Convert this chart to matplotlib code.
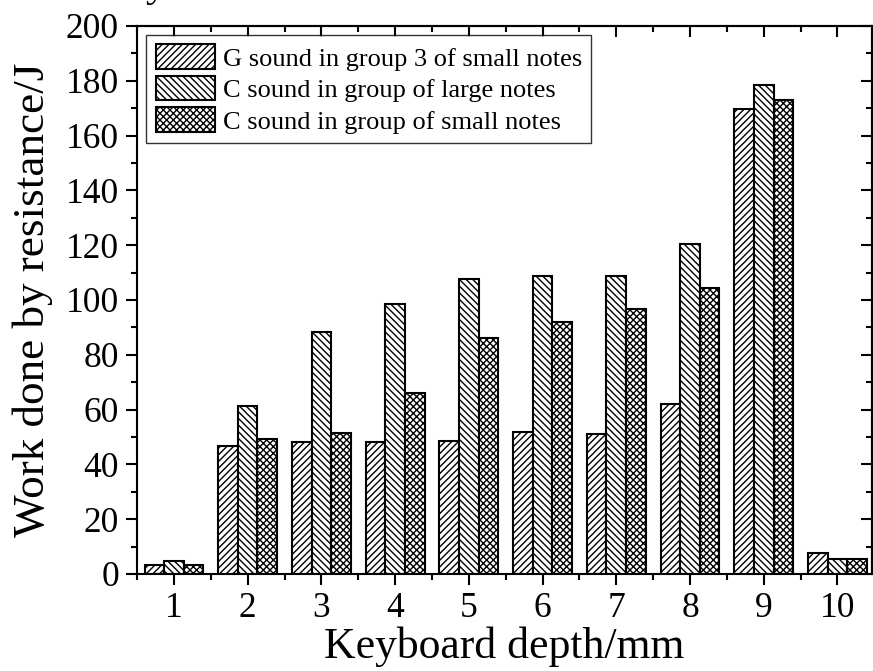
import numpy as np
import matplotlib
matplotlib.use("Agg")
import matplotlib.pyplot as plt
from matplotlib.ticker import MultipleLocator

plt.rcParams['font.family'] = 'Liberation Serif'
plt.rcParams['hatch.linewidth'] = 1.0

depth = [1, 2, 3, 4, 5, 6, 7, 8, 9, 10]
g_small3 = [3.3, 46.8, 48.2, 48.2, 48.4, 51.8, 51.0, 62.0, 169.6, 7.7]
c_large = [4.6, 61.4, 88.4, 98.5, 107.5, 108.8, 108.8, 120.3, 178.5, 5.4]
c_small = [3.3, 49.1, 51.6, 66.0, 86.2, 91.9, 96.7, 104.5, 173.0, 5.4]
labels = ['G sound in group 3 of small notes',
          'C sound in group of large notes',
          'C sound in group of small notes']

fig = plt.figure(figsize=(8.73, 6.71), dpi=100)
ax = fig.add_axes([0.157, 0.1446, 0.842, 0.8167])

x = np.array(depth)
w = 0.266
ax.bar(x - w, g_small3, w, color='white', edgecolor='black', linewidth=1.5, hatch='/////', label=labels[0])
ax.bar(x, c_large, w, color='white', edgecolor='black', linewidth=1.5, hatch='\\\\\\\\\\', label=labels[1])
ax.bar(x + w, c_small, w, color='white', edgecolor='black', linewidth=1.5, hatch='xxxxx', label=labels[2])

ax.set_xlim(0.5, 10.47)
ax.set_ylim(0, 200)
ax.set_xticks(depth)
ax.xaxis.set_minor_locator(MultipleLocator(0.5))
ax.yaxis.set_major_locator(MultipleLocator(20))
ax.yaxis.set_minor_locator(MultipleLocator(10))
ax.tick_params(which='major', direction='out', length=8, width=1.5, labelsize=25.5, pad=5)
ax.tick_params(which='minor', direction='out', length=4, width=1.5)
for s in ax.spines.values():
    s.set_linewidth(1.5)

# inward ticks on top and right
top = ax.secondary_xaxis('top')
top.set_xticks(depth)
top.xaxis.set_minor_locator(MultipleLocator(0.5))
top.tick_params(which='major', direction='in', length=8, width=1.5, labeltop=False)
top.tick_params(which='minor', direction='in', length=4, width=1.5)
right = ax.secondary_yaxis('right')
right.yaxis.set_major_locator(MultipleLocator(20))
right.yaxis.set_minor_locator(MultipleLocator(10))
right.tick_params(which='major', direction='in', length=8, width=1.5, labelright=False)
right.tick_params(which='minor', direction='in', length=4, width=1.5)
for sa in (top, right):
    for s in sa.spines.values():
        s.set_linewidth(1.5)

ax.set_xlabel('Keyboard depth/mm', fontsize=31.5, labelpad=1)
ax.set_ylabel('Work done by resistance/J', fontsize=32.5, labelpad=9)

leg = ax.legend(loc='upper left', fontsize=19, frameon=True, fancybox=False,
                edgecolor='black', handlelength=2.25, handleheight=1.05,
                handletextpad=0.3, labelspacing=0.2, borderpad=0.35,
                borderaxespad=0.35)
leg.get_frame().set_linewidth(1.0)

fig.text(0.178, 1.006, 'y', fontsize=30, va='baseline', ha='center')

fig.savefig('out.png', dpi=100)
